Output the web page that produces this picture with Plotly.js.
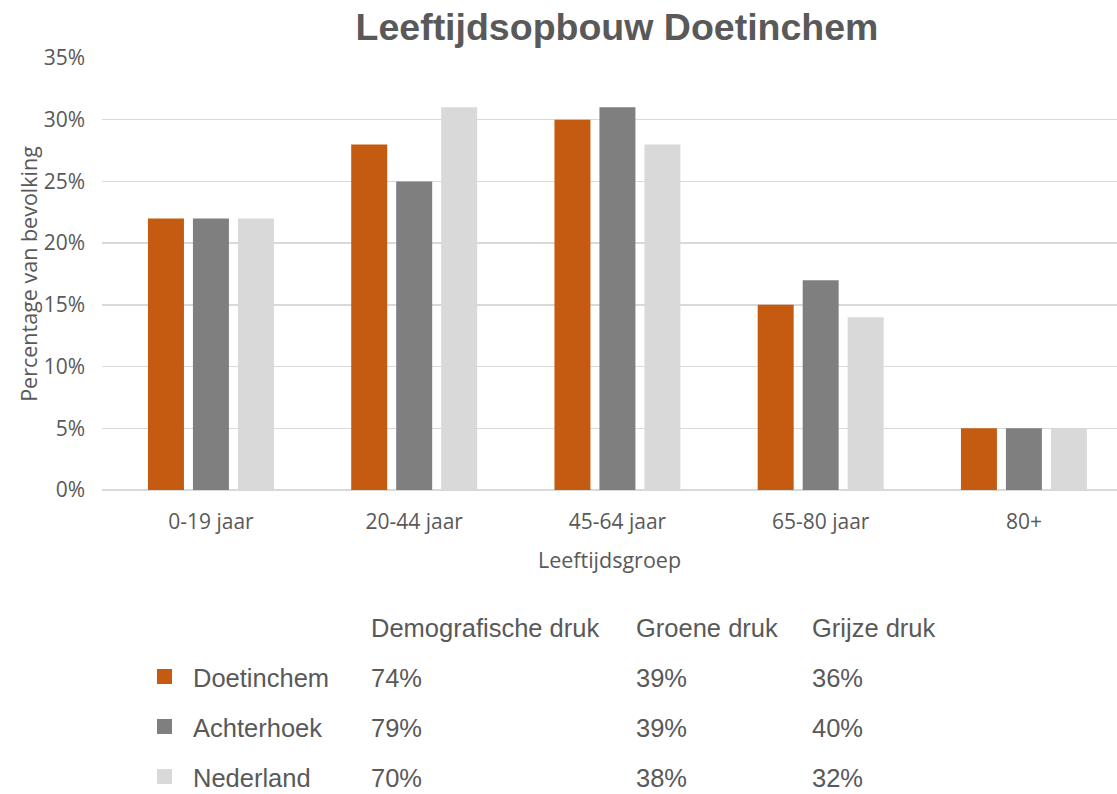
<!DOCTYPE html>
<html><head><meta charset="utf-8">
<script src="https://cdn.plot.ly/plotly-3.0.1.min.js"></script>
<style>html,body{margin:0;padding:0;background:#fff}#chart{width:1117px;height:794px}</style>
</head><body><div id="chart"></div>
<script>
const categories = ["0-19 jaar", "20-44 jaar", "45-64 jaar", "65-80 jaar", "80+"];
const seriesNames = ["Doetinchem", "Achterhoek", "Nederland"];
const doetinchem = [0.22, 0.28, 0.30, 0.15, 0.05];
const achterhoek = [0.22, 0.25, 0.31, 0.17, 0.05];
const nederland = [0.22, 0.31, 0.28, 0.14, 0.05];
const colors = ["#C55A11", "#7F7F7F", "#D9D9D9"];
const tableHeaders = ["Demografische druk", "Groene druk", "Grijze druk"];
const demografischeDruk = ["74%", "79%", "70%"];
const groeneDruk = ["39%", "39%", "38%"];
const grijzeDruk = ["36%", "40%", "32%"];

const W = 1117, H = 794;
const mL = 102, mR = 0, mT = 58, mB = 304;
const plotW = W - mL - mR, plotH = H - mT - mB;
const seriesVals = [doetinchem, achterhoek, nederland];
const traces = seriesVals.map((v, i) => ({
  type: "bar", name: seriesNames[i], x: categories, y: v,
  marker: {color: colors[i]}, hoverinfo: "skip"
}));

const textColor = "#595959";
const tableFont = {family: "Liberation Sans, Arial, sans-serif", size: 25.5, color: textColor};
// convert pixel position in the figure to paper (plot-area) coordinates
const px = x => (x - mL) / plotW;
const py = y => (H - mB - y) / plotH;
const annotations = [];
const shapes = [];
const colX = [369, 634, 810];
const headerY = 628;
const rowY = [678, 728, 778];
tableHeaders.forEach((h, j) => annotations.push({
  xref: "paper", yref: "paper", x: px(colX[j]), y: py(headerY), text: h, showarrow: false,
  xanchor: "left", yanchor: "middle", font: tableFont
}));
const cols = [demografischeDruk, groeneDruk, grijzeDruk];
seriesNames.forEach((n, i) => {
  annotations.push({xref: "paper", yref: "paper", x: px(191), y: py(rowY[i]), text: n, showarrow: false,
    xanchor: "left", yanchor: "middle", font: tableFont});
  cols.forEach((c, j) => annotations.push({xref: "paper", yref: "paper", x: px(colX[j]), y: py(rowY[i]), text: c[i],
    showarrow: false, xanchor: "left", yanchor: "middle", font: tableFont}));
  shapes.push({type: "rect", xref: "paper", yref: "paper", x0: px(157), x1: px(172), y0: py(rowY[i] + 6), y1: py(rowY[i] - 9),
    fillcolor: colors[i], line: {width: 0}});
});

const layout = {
  width: W, height: H,
  margin: {l: mL, r: mR, t: mT, b: mB, pad: 0},
  paper_bgcolor: "#fff", plot_bgcolor: "#fff",
  showlegend: false,
  barmode: "group", bargap: 0.336, bargroupgap: 0.2,
  title: {text: "<b>Leeftijdsopbouw Doetinchem</b>", x: 617 / W, xanchor: "center", y: 1 - 27 / H, yanchor: "middle",
    font: {family: "Liberation Sans, Arial, sans-serif", size: 37.5, color: textColor}},
  font: {family: "Open Sans, sans-serif", color: textColor},
  xaxis: {
    range: [-0.536, 4.458], showgrid: false, zeroline: false, showline: false, ticks: "",
    tickfont: {size: 21, color: textColor}, ticklabelstandoff: 17,
    title: {text: "Leeftijdsgroep", font: {size: 21.5, color: textColor}, standoff: 18}
  },
  yaxis: {
    range: [0, 0.35], dtick: 0.05, tickformat: ".0%", showgrid: true, gridcolor: "#D9D9D9", gridwidth: 1.5,
    zeroline: true, zerolinecolor: "#D9D9D9", zerolinewidth: 1.5, showline: false, ticks: "",
    tickfont: {size: 21, color: textColor}, ticklabelstandoff: 16,
    title: {text: "Percentage van bevolking", font: {size: 21.5, color: textColor}, standoff: 0}
  },
  annotations: annotations, shapes: shapes
};
Plotly.newPlot("chart", traces, layout, {displayModeBar: false, staticPlot: true});
</script></body></html>
